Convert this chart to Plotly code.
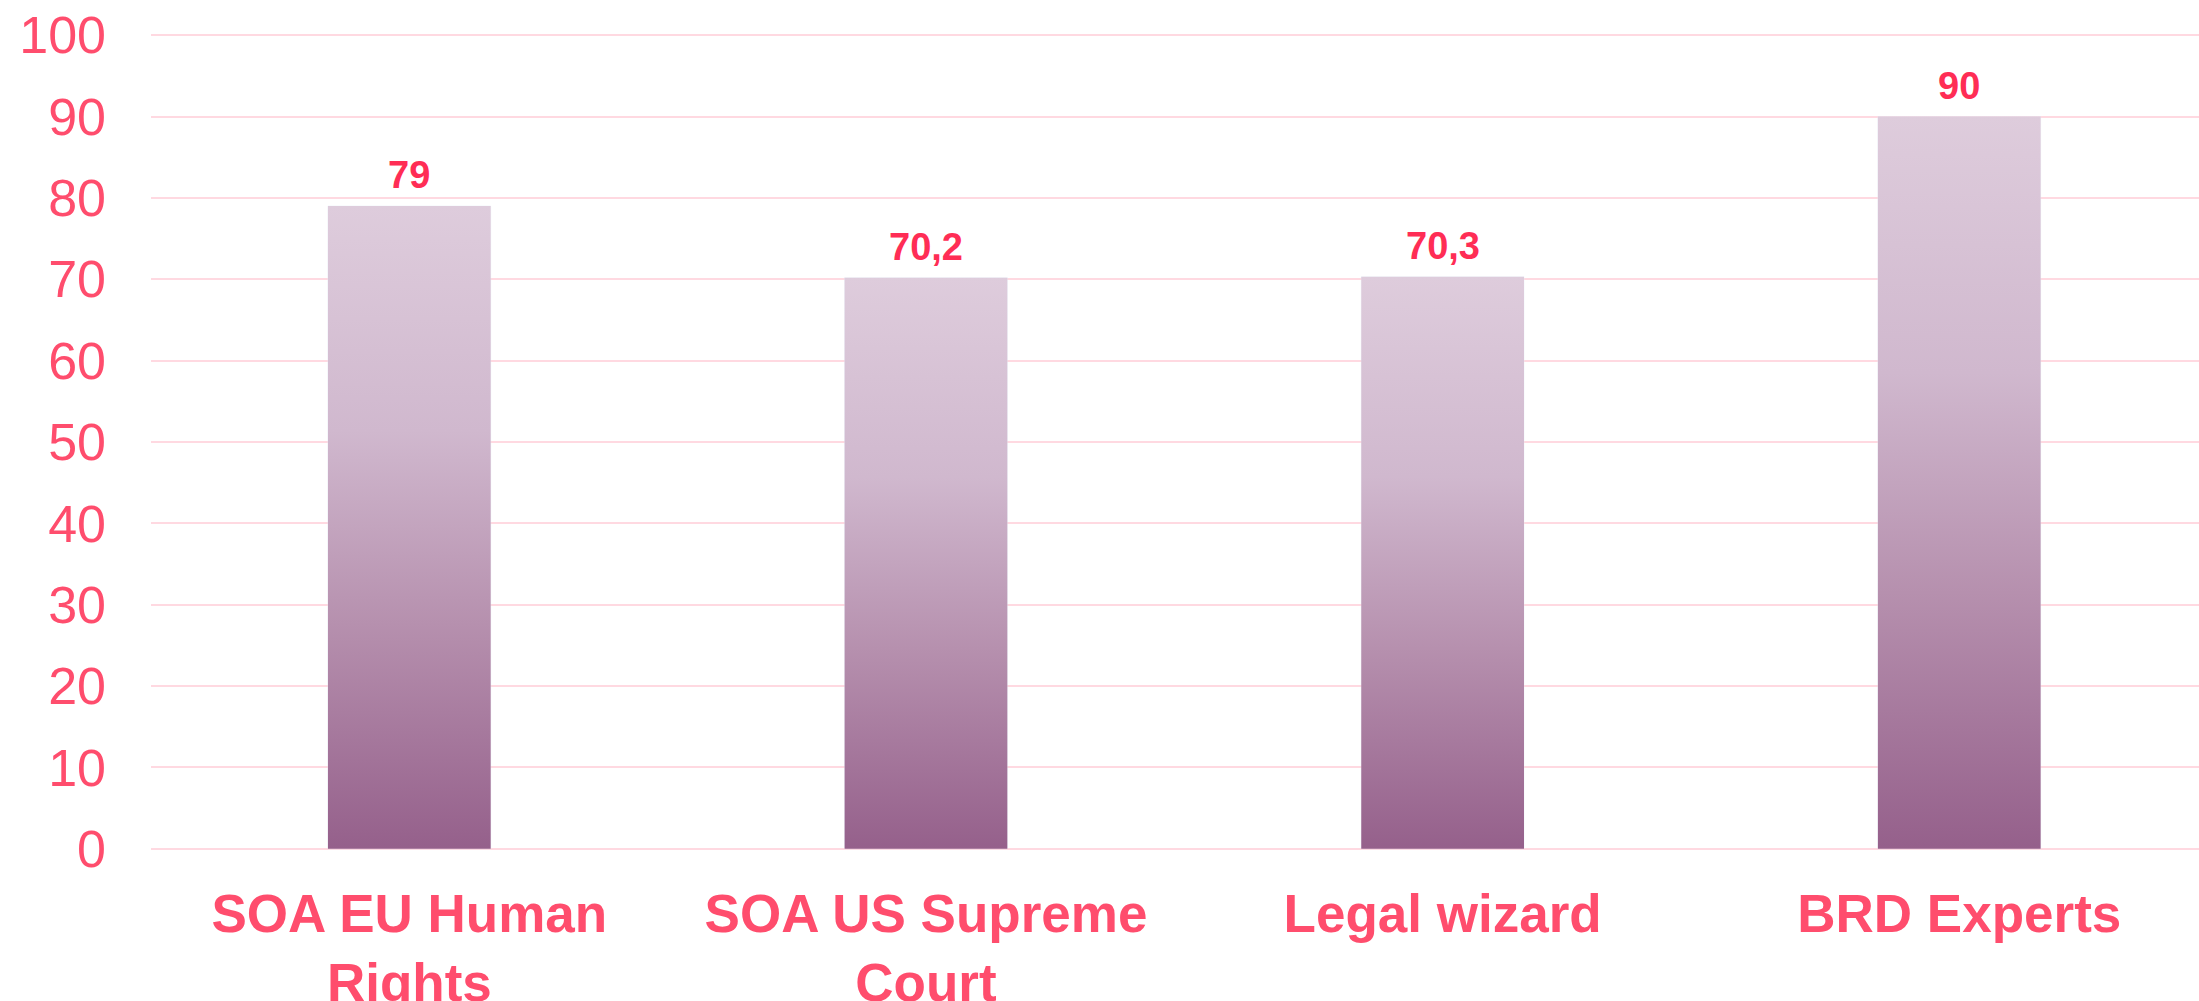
import plotly.graph_objects as go

categories = ["SOA EU Human<br>Rights", "SOA US Supreme<br>Court", "Legal wizard", "BRD Experts"]
values = [79, 70.2, 70.3, 90]
value_labels = ["79", "70,2", "70,3", "90"]
y_ticks = [0, 10, 20, 30, 40, 50, 60, 70, 80, 90, 100]

BAR_W = 0.315
TICK_COLOR = "#FF4D6D"
LABEL_COLOR = "#FF2D55"
GRID_COLOR = "#FFD9E1"
FONT = "Arial, Liberation Sans, sans-serif"

fig = go.Figure()
idx = list(range(len(categories)))

for i, v in zip(idx, values):
    fig.add_trace(go.Scatter(
        x=[i - BAR_W / 2, i + BAR_W / 2, i + BAR_W / 2, i - BAR_W / 2, i - BAR_W / 2],
        y=[0, 0, v, v, 0],
        mode="lines",
        line=dict(width=0),
        fill="toself",
        fillgradient=dict(type="vertical",
                          colorscale=[[0, "#95608B"], [0.35, "#B690AE"], [0.65, "#D0B8CE"], [1, "#DECCDC"]],
                          start=0, stop=v),
        hoverinfo="skip",
        showlegend=False,
    ))

fig.add_trace(go.Bar(x=idx, y=values, width=BAR_W, marker_color="rgba(0,0,0,0)",
                     showlegend=False, hovertemplate="%{y}<extra></extra>"))

for i, v, t in zip(idx, values, value_labels):
    fig.add_annotation(x=i, y=v, text=t, showarrow=False, yanchor="bottom", yshift=8,
                       font=dict(family=FONT, size=38, color=LABEL_COLOR, weight="bold"))

fig.update_layout(
    width=2199, height=1001,
    margin=dict(l=151, r=0, t=34, b=151),
    plot_bgcolor="white", paper_bgcolor="white",
    font=dict(family=FONT),
    xaxis=dict(range=[-0.5, 3.464], tickmode="array", tickvals=idx, ticktext=categories,
               showgrid=False, zeroline=False, showline=False, automargin=False,
               tickfont=dict(family=FONT, size=53, color=TICK_COLOR, weight="bold"),
               ticklabelstandoff=28),
    yaxis=dict(range=[-0.15, 100.15], tickmode="array", tickvals=y_ticks,
               showgrid=True, gridcolor=GRID_COLOR, gridwidth=2, zeroline=False, showline=False,
               automargin=False,
               tickfont=dict(family=FONT, size=52, color=TICK_COLOR),
               ticklabelstandoff=44),
)

fig.write_html("out.html", config={"displayModeBar": False},
               post_script="document.body.style.margin='0';")
